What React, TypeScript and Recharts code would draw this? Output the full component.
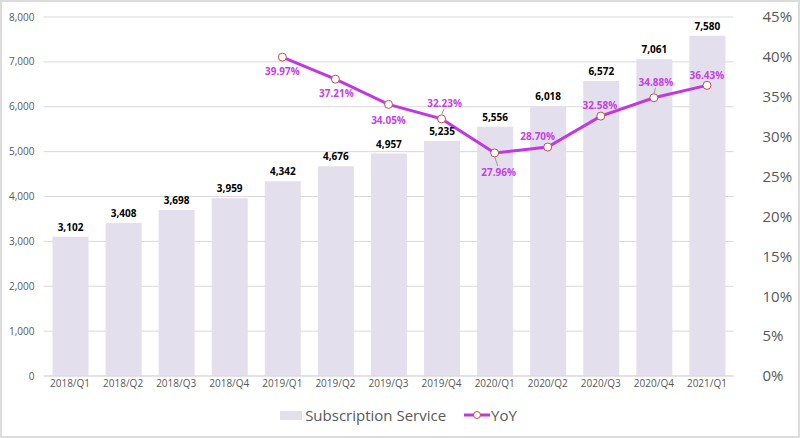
import React from "react";
import {
  ComposedChart,
  Bar,
  Line,
  XAxis,
  YAxis,
  CartesianGrid,
  Legend,
  LabelList,
} from "recharts";

const quarters = [
  "2018/Q1", "2018/Q2", "2018/Q3", "2018/Q4",
  "2019/Q1", "2019/Q2", "2019/Q3", "2019/Q4",
  "2020/Q1", "2020/Q2", "2020/Q3", "2020/Q4",
  "2021/Q1",
];
const subscription = [3102, 3408, 3698, 3959, 4342, 4676, 4957, 5235, 5556, 6018, 6572, 7061, 7580];
const yoy: (number | null)[] = [null, null, null, null, 39.97, 37.21, 34.05, 32.23, 27.96, 28.7, 32.58, 34.88, 36.43];
const leftTicks = [0, 1000, 2000, 3000, 4000, 5000, 6000, 7000, 8000];
const rightTicks = [0, 5, 10, 15, 20, 25, 30, 35, 40, 45];

const data = quarters.map((q, i) => ({ q, sub: subscription[i], yoy: yoy[i] }));

const FONT = "'Open Sans', sans-serif";
const BAR = "#e4dfec";
const LINE = "#bf38e2";
const LABEL = "#c63ee8";
const AXIS_TEXT = "#595959";

// label placement (style only): offset of label center from point
const placement: Record<number, { dx: number; dy: number; leader?: boolean }> = {
  4: { dx: 0, dy: 14 },
  5: { dx: 1, dy: 14 },
  6: { dx: 0, dy: 16 },
  7: { dx: 3, dy: -16, leader: true },
  8: { dx: 4, dy: 19, leader: true },
  9: { dx: -10, dy: -11 },
  10: { dx: -1, dy: -11 },
  11: { dx: 2, dy: -16, leader: true },
  12: { dx: 0, dy: -10 },
};

const YoyLabel = (props: any) => {
  const { x, y, value, index } = props;
  if (value == null) return null;
  const p = placement[index] || { dx: 0, dy: -10 };
  const lx = x + p.dx;
  const ly = y + p.dy;
  return (
    <g>
      {p.leader ? (
        <line
          x1={x}
          y1={y + (p.dy > 0 ? 4 : -4)}
          x2={x + p.dx * 0.8}
          y2={ly + (p.dy > 0 ? -6 : 6)}
          stroke="#9a9a9a"
          strokeWidth={1}
        />
      ) : null}
      <text
        x={lx}
        y={ly}
        textAnchor="middle"
        dominantBaseline="central"
        fill={LABEL}
        fontSize={10}
        fontWeight={700}
        fontFamily={FONT}
      >
        {Number(value).toFixed(2)}%
      </text>
    </g>
  );
};

const BarLabel = (props: any) => {
  const { x, y, width, value } = props;
  return (
    <text
      x={x + width / 2}
      y={y - 6}
      textAnchor="middle"
      fill="#000"
      fontSize={10}
      fontWeight={700}
      fontFamily={FONT}
    >
      {Number(value).toLocaleString("en-US")}
    </text>
  );
};

const LegendContent = () => (
  <div
    style={{
      height: 26,
      display: "flex",
      justifyContent: "center",
      alignItems: "center",
      fontFamily: FONT,
      fontSize: 15,
      color: AXIS_TEXT,
    }}
  >
    <div style={{ display: "flex", alignItems: "center", marginRight: 18 }}>
      <svg width={22} height={9} style={{ marginRight: 3 }}>
        <rect x={0} y={0} width={22} height={9} fill={BAR} />
      </svg>
      <span>Subscription Service</span>
    </div>
    <div style={{ display: "flex", alignItems: "center" }}>
      <svg width={26} height={10} style={{ marginRight: 1 }}>
        <line x1={0} y1={5} x2={26} y2={5} stroke={LINE} strokeWidth={3} />
        <circle cx={13} cy={5} r={3.5} fill="#fff" stroke="#c0504d" strokeWidth={1} />
      </svg>
      <span>YoY</span>
    </div>
  </div>
);

export default function App() {
  return (
    <div
      style={{
        position: "absolute",
        left: 0,
        top: 0,
        width: 800,
        height: 438,
        boxSizing: "border-box",
        border: "2px solid #dcdcdc",
        background: "#fff",
      }}
    >
      <ComposedChart
        width={796}
        height={434}
        data={data}
        margin={{ top: 15, right: 6.5, left: 3.5, bottom: 8 }}
      >
        <CartesianGrid yAxisId="left" vertical={false} stroke="#d9d9d9" strokeWidth={1} />
        <XAxis
          dataKey="q"
          height={26}
          tickLine={false}
          tickSize={0}
          tickMargin={4}
          axisLine={{ stroke: "#d9d9d9" }}
          tick={{ fill: AXIS_TEXT, fontSize: 10, fontFamily: FONT }}
          interval={0}
        />
        <YAxis
          yAxisId="left"
          domain={[0, 8000]}
          ticks={leftTicks}
          width={38}
          tickLine={false}
          tickSize={0}
          tickMargin={9}
          axisLine={false}
          tick={{ fill: AXIS_TEXT, fontSize: 10, fontFamily: FONT }}
          tickFormatter={(v: number) => v.toLocaleString("en-US")}
        />
        <YAxis
          yAxisId="right"
          orientation="right"
          domain={[0, 45]}
          ticks={rightTicks}
          width={58}
          tickLine={false}
          tickSize={0}
          tickMargin={29}
          axisLine={false}
          tick={{ fill: AXIS_TEXT, fontSize: 15, fontFamily: FONT, textAnchor: "start" }}
          tickFormatter={(v: number) => `${v}%`}
        />
        <Legend verticalAlign="bottom" content={<LegendContent />} />
        <Bar
          yAxisId="left"
          dataKey="sub"
          name="Subscription Service"
          fill={BAR}
          barSize={36}
          isAnimationActive={false}
        >
          <LabelList dataKey="sub" content={<BarLabel />} />
        </Bar>
        <Line
          yAxisId="right"
          dataKey="yoy"
          name="YoY"
          stroke={LINE}
          strokeWidth={3}
          dot={{ r: 4, fill: "#fff", stroke: "#c0504d", strokeWidth: 1 }}
          activeDot={false}
          connectNulls={false}
          isAnimationActive={false}
        >
          <LabelList dataKey="yoy" content={<YoyLabel />} />
        </Line>
      </ComposedChart>
    </div>
  );
}
